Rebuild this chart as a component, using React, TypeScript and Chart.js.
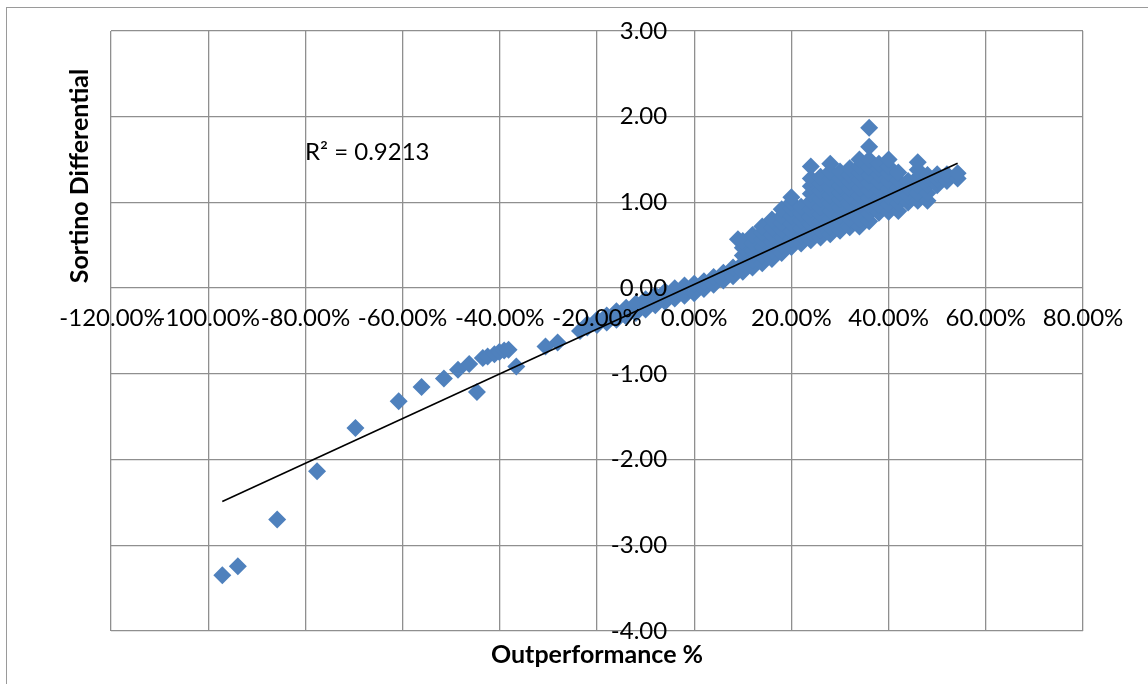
import React, { useEffect, useRef } from 'react';
import { Chart, registerables } from 'chart.js';

Chart.register(...registerables);

// Axis ranges / tick steps
const X_MIN = -1.2;
const X_MAX = 0.8;
const X_STEP = 0.2;
const Y_MIN = -4;
const Y_MAX = 3;
const Y_STEP = 1;

// Axis titles and trendline annotation
const X_TITLE = 'Outperformance %';
const Y_TITLE = 'Sortino Differential';
const R2_LABEL = 'R² = 0.9213';
const TREND_SLOPE = 2.609;
const TREND_INTERCEPT = 0.043;

// Sparse left tail (outperformance as fraction, sortino differential)
const tailX = [-0.971, -0.939, -0.858, -0.776, -0.697, -0.608, -0.561, -0.515, -0.486, -0.463, -0.447, -0.435, -0.425, -0.411, -0.401, -0.391, -0.382, -0.366, -0.306, -0.281, -0.235];
const tailY = [-3.35, -3.245, -2.70, -2.137, -1.632, -1.32, -1.154, -1.054, -0.952, -0.886, -1.212, -0.816, -0.797, -0.77, -0.746, -0.727, -0.719, -0.913, -0.68, -0.634, -0.50];

// Dense cloud, read column by column
const cloudColumnX = [-0.22, -0.20, -0.18, -0.16, -0.14, -0.12, -0.10, -0.08, -0.06, -0.04, -0.02, 0.00, 0.02, 0.04, 0.06, 0.08, 0.09, 0.10, 0.12, 0.14, 0.16, 0.18, 0.20, 0.22, 0.24, 0.26, 0.28, 0.30, 0.32, 0.34, 0.36, 0.38, 0.40, 0.42, 0.44, 0.46, 0.48, 0.50, 0.52, 0.542];
const cloudColumnY = [
  [-0.46, -0.42],
  [-0.43, -0.37],
  [-0.40, -0.32],
  [-0.37, -0.27],
  [-0.33, -0.23],
  [-0.29, -0.18],
  [-0.25, -0.13],
  [-0.20, -0.08],
  [-0.16, -0.04],
  [-0.12, 0.00],
  [-0.09, 0.03],
  [-0.06, 0.05],
  [-0.01, 0.08],
  [0.04, 0.13],
  [0.09, 0.18],
  [0.14, 0.24],
  [0.57],
  [0.19, 0.29, 0.38, 0.47, 0.55],
  [0.24, 0.33, 0.43, 0.53, 0.62],
  [0.29, 0.38, 0.48, 0.57, 0.65, 0.72],
  [0.34, 0.44, 0.53, 0.62, 0.71, 0.80],
  [0.41, 0.50, 0.59, 0.68, 0.76, 0.84, 0.92],
  [0.48, 0.57, 0.66, 0.75, 0.84, 0.93, 1.00, 1.06],
  [0.52, 0.61, 0.70, 0.79, 0.87, 0.95],
  [0.56, 0.65, 0.74, 0.83, 0.92, 1.01, 1.10, 1.19, 1.28, 1.42],
  [0.59, 0.68, 0.77, 0.86, 0.95, 1.04, 1.13, 1.22, 1.30],
  [0.63, 0.72, 0.81, 0.90, 0.99, 1.08, 1.17, 1.27, 1.36, 1.45],
  [0.67, 0.76, 0.85, 0.94, 1.03, 1.12, 1.20, 1.28, 1.36],
  [0.71, 0.80, 0.89, 0.98, 1.07, 1.16, 1.24, 1.32, 1.40],
  [0.72, 0.81, 0.90, 0.99, 1.08, 1.17, 1.26, 1.34, 1.42, 1.50],
  [0.78, 0.87, 0.96, 1.05, 1.14, 1.23, 1.32, 1.41, 1.50, 1.65, 1.87],
  [0.88, 0.97, 1.06, 1.15, 1.24, 1.33, 1.40, 1.45],
  [0.89, 0.98, 1.07, 1.16, 1.25, 1.34, 1.42, 1.50],
  [0.90, 0.99, 1.08, 1.17, 1.26, 1.35],
  [1.00, 1.08, 1.17, 1.25],
  [1.02, 1.11, 1.20, 1.29, 1.38, 1.47],
  [1.02, 1.11, 1.20, 1.28, 1.32],
  [1.20, 1.27, 1.33],
  [1.25, 1.33],
  [1.28, 1.34],
];

const FONT = 'Lato, "Open Sans", sans-serif';
const TICK_SIZE = 24;

function fmtPct(v: number) {
  const n = Math.abs(v) < 1e-9 ? 0 : v;
  return (n * 100).toFixed(2) + '%';
}
function fmtNum(v: number) {
  const n = Math.abs(v) < 1e-9 ? 0 : v;
  return n.toFixed(2);
}

const decorPlugin = {
  id: 'decor',
  afterDraw(chart: any) {
    const ctx = chart.ctx as CanvasRenderingContext2D;
    const xs = chart.scales.x;
    const ys = chart.scales.y;
    ctx.save();
    // outer chart border
    ctx.strokeStyle = '#9a9a9a';
    ctx.lineWidth = 1;
    ctx.strokeRect(6.5, 7.5, 1160, 700);
    ctx.fillStyle = '#000';
    // y tick labels next to the vertical axis crossing at x = 0
    ctx.font = `${TICK_SIZE}px ${FONT}`;
    ctx.textAlign = 'right';
    ctx.textBaseline = 'middle';
    const axisX = xs.getPixelForValue(0);
    ys.ticks.forEach((t: any) => {
      ctx.fillText(fmtNum(t.value), axisX - 27, ys.getPixelForValue(t.value));
    });
    // R² label
    ctx.textAlign = 'left';
    ctx.fillText(R2_LABEL, 305, 152);
    // x title
    ctx.font = `bold 25px ${FONT}`;
    ctx.textAlign = 'center';
    ctx.fillText(X_TITLE, 597, 655);
    // y title
    ctx.translate(80, 176);
    ctx.rotate(-Math.PI / 2);
    ctx.fillText(Y_TITLE, 0, 0);
    ctx.restore();
  },
};

export default function App() {
  const ref = useRef<HTMLCanvasElement | null>(null);
  useEffect(() => {
    if (!ref.current) return;
    const points: { x: number; y: number }[] = [];
    tailX.forEach((x, i) => points.push({ x, y: tailY[i] }));
    cloudColumnX.forEach((x, i) => cloudColumnY[i].forEach((y) => points.push({ x, y })));
    const xs = points.map((p) => p.x);
    const minX = Math.min(...xs);
    const maxX = Math.max(...xs);
    const trend = [
      { x: minX, y: TREND_INTERCEPT + TREND_SLOPE * minX },
      { x: maxX, y: TREND_INTERCEPT + TREND_SLOPE * maxX },
    ];
    const grid = { color: '#8f8f8f', lineWidth: 1.3, drawTicks: false, z: -1 };
    const chart = new Chart(ref.current, {
      type: 'scatter',
      data: {
        datasets: [
          {
            label: 'Trend',
            data: trend,
            showLine: true,
            borderColor: '#000',
            borderWidth: 1.6,
            pointRadius: 0,
            order: 0,
          } as any,
          {
            label: 'Sortino',
            data: points,
            pointStyle: 'rectRot',
            pointRadius: 9,
            pointBorderWidth: 0,
            backgroundColor: '#4F81BD',
            borderColor: '#4F81BD',
            order: 1,
          } as any,
        ],
      },
      options: {
        responsive: false,
        animation: false,
        layout: { padding: { left: 111, right: 65, top: 31, bottom: 53 } },
        plugins: { legend: { display: false }, tooltip: { enabled: false } },
        scales: {
          x: {
            type: 'linear',
            position: { y: 0 } as any,
            min: X_MIN,
            max: X_MAX,
            grid,
            border: { display: false },
            ticks: {
              stepSize: X_STEP,
              autoSkip: false,
              maxRotation: 0,
              padding: 16,
              color: '#000',
              font: { family: FONT, size: TICK_SIZE },
              callback: (v: any) => fmtPct(Number(v)),
              z: 1,
            } as any,
          },
          y: {
            type: 'linear',
            position: { x: 0 } as any,
            min: Y_MIN,
            max: Y_MAX,
            grid,
            border: { display: false },
            ticks: {
              stepSize: Y_STEP,
              autoSkip: false,
              padding: 0,
              display: false,
            } as any,
          },
        },
      },
      plugins: [decorPlugin],
    });
    return () => chart.destroy();
  }, []);
  return (
    <div style={{ position: 'fixed', left: 0, top: 0, width: 1148, height: 684, background: '#fff' }}>
      <canvas ref={ref} width={1148} height={684} style={{ display: 'block' }} />
    </div>
  );
}
